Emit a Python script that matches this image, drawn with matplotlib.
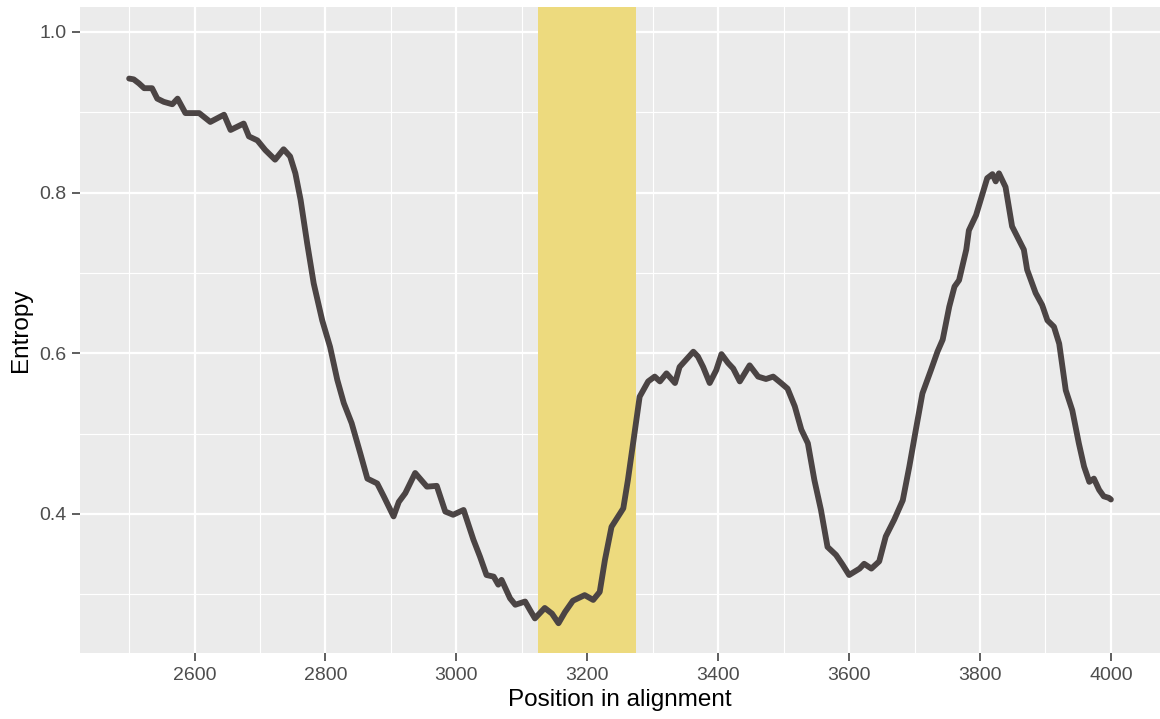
import numpy as np
import matplotlib.pyplot as plt
from matplotlib.ticker import MultipleLocator

plt.rcParams['font.family'] = ['Liberation Sans', 'DejaVu Sans']

# sliding-window entropy along the alignment
position = [
    2500, 2507, 2515, 2523, 2535, 2543, 2553, 2566, 2574, 2586,
    2607, 2624, 2645, 2655, 2675, 2683, 2696, 2708, 2723, 2736,
    2746, 2754, 2762, 2772, 2782, 2795, 2807, 2818, 2828, 2840,
    2853, 2864, 2879, 2889, 2904, 2912, 2922, 2937, 2955, 2970,
    2983, 2995, 3011, 3026, 3036, 3046, 3057, 3064, 3069, 3082,
    3090, 3105, 3112, 3120, 3135, 3146, 3156, 3166, 3178, 3196,
    3209, 3219, 3227, 3237, 3255, 3262, 3273, 3280, 3293, 3303,
    3311, 3321, 3334, 3341, 3351, 3362, 3369, 3377, 3387, 3397,
    3405, 3415, 3423, 3433, 3448, 3461, 3473, 3484, 3496, 3506,
    3517, 3527, 3537, 3547, 3557, 3567, 3580, 3590, 3600, 3616,
    3623, 3634, 3646, 3656, 3669, 3682, 3692, 3702, 3712, 3725,
    3735, 3743, 3753, 3761, 3768, 3779, 3783, 3794, 3804, 3811,
    3819, 3824, 3829, 3839, 3849, 3857, 3867, 3872, 3885, 3895,
    3903, 3913, 3921, 3931, 3941, 3951, 3959, 3967, 3974, 3982,
    3989, 3997, 4000,
]
entropy = [
    0.942, 0.941, 0.936, 0.930, 0.930, 0.917, 0.913, 0.910, 0.917, 0.899,
    0.899, 0.888, 0.897, 0.878, 0.886, 0.870, 0.865, 0.853, 0.841, 0.854,
    0.845, 0.824, 0.791, 0.737, 0.687, 0.641, 0.608, 0.567, 0.538, 0.513,
    0.476, 0.444, 0.438, 0.422, 0.397, 0.415, 0.426, 0.451, 0.434, 0.435,
    0.403, 0.399, 0.405, 0.368, 0.347, 0.324, 0.322, 0.312, 0.318, 0.295,
    0.287, 0.291, 0.281, 0.270, 0.283, 0.276, 0.264, 0.278, 0.292, 0.299,
    0.293, 0.303, 0.343, 0.384, 0.407, 0.442, 0.505, 0.546, 0.565, 0.571,
    0.565, 0.575, 0.563, 0.583, 0.592, 0.602, 0.596, 0.583, 0.563, 0.579,
    0.599, 0.588, 0.581, 0.565, 0.585, 0.571, 0.568, 0.571, 0.563, 0.556,
    0.534, 0.505, 0.488, 0.442, 0.405, 0.359, 0.349, 0.337, 0.324, 0.332,
    0.338, 0.332, 0.341, 0.372, 0.393, 0.417, 0.459, 0.505, 0.550, 0.579,
    0.602, 0.617, 0.658, 0.683, 0.691, 0.729, 0.753, 0.772, 0.799, 0.818,
    0.823, 0.814, 0.824, 0.807, 0.758, 0.745, 0.729, 0.704, 0.675, 0.660,
    0.641, 0.633, 0.612, 0.554, 0.529, 0.488, 0.459, 0.440, 0.444, 0.430,
    0.422, 0.420, 0.418,
]

# highlighted region of the alignment
region_start = 3125
region_end = 3275

fig = plt.figure(figsize=(11.6, 7.19), dpi=100)
ax = fig.add_axes([0.069, 0.0922, 0.931, 0.8981])

# ggplot-like grey panel
ax.set_facecolor('#EBEBEB')
for s in ax.spines.values():
    s.set_visible(False)
ax.xaxis.set_major_locator(MultipleLocator(200))
ax.xaxis.set_minor_locator(MultipleLocator(100))
ax.yaxis.set_major_locator(MultipleLocator(0.2))
ax.yaxis.set_minor_locator(MultipleLocator(0.1))
ax.grid(which='major', color='white', lw=1.6)
ax.grid(which='minor', color='white', lw=0.8)
ax.set_axisbelow(True)
ax.tick_params(which='major', length=6, width=1.1, color='#333333',
               labelsize=14, labelcolor='#4D4D4D', pad=4)
ax.tick_params(which='minor', length=0)

ax.axvspan(region_start, region_end, color='#EDDA7E', lw=0, zorder=1.5)
ax.plot(position, entropy, color='#4B4444', lw=4.2, solid_joinstyle='round',
        solid_capstyle='round', zorder=3)

ax.set_xlim(2425, 4075)
ax.set_ylim(0.2273, 1.0311)
ax.set_xticks([2600, 2800, 3000, 3200, 3400, 3600, 3800, 4000])
ax.set_yticks([0.4, 0.6, 0.8, 1.0])
ax.set_yticklabels(['0.4', '0.6', '0.8', '1.0'])

ax.set_xlabel('Position in alignment', fontsize=17.5, color='black', labelpad=4)
ax.set_ylabel('Entropy', fontsize=17.5, color='black', labelpad=5)

plt.savefig('out.png', dpi=100)
